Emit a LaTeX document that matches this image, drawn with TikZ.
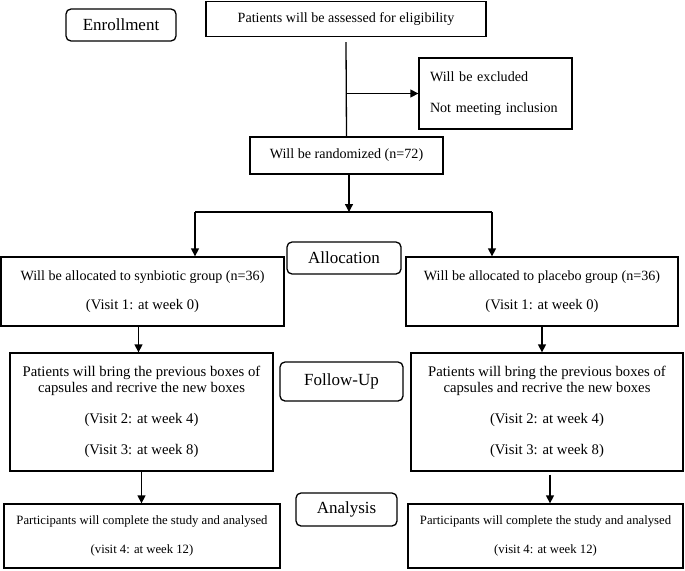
\documentclass[tikz,border=0pt]{standalone}
\usepackage{fontspec}
\setmainfont{Liberation Serif}
\usetikzlibrary{arrows.meta}

\tikzset{
  box/.style={draw, line width=1.3pt, align=center, inner sep=0pt, font=\fontsize{14.1}{16}\selectfont},
  stage/.style={draw, line width=1.3pt, rounded corners=5pt, inner sep=0pt, font=\fontsize{17}{19}\selectfont},
  flow/.style={line width=1.3pt},
}

\begin{document}
\begin{tikzpicture}[x=1pt, y=-1pt, >={Triangle[length=8pt,width=8pt]}]
	\useasboundingbox (0,0) rectangle (685,570);
	% fasi
	\node[stage, minimum width=110pt, minimum height=32pt] (enroll) at (121,25) {Enrollment};
	\node[stage, minimum width=114pt, minimum height=32pt] (alloc) at (344,258) {Allocation};
	\node[stage, minimum width=123pt, minimum height=39pt] (follow) at (341.5,381.5) {Follow-Up};
	\node[stage, minimum width=101pt, minimum height=33pt] (analysis) at (346.5,509.5) {Analysis};
	% screening
	\node[box, minimum width=280pt, minimum height=35pt] (elig) at (346,19) {Patients will be assessed for eligibility};
	\node[box, align=left, text width=131pt, inner xsep=11pt, minimum height=71pt] (excl) at (495.5,93.5) {Will be excluded\\[15pt]Not meeting inclusion};
	\node[box, minimum width=193pt, minimum height=37pt] (rand) at (346.5,155.5) {Will be randomized (n=72)};
	% gruppi
	\node[box, minimum width=283pt, minimum height=69pt] (synb) at (142.5,291.5) {Will be allocated to synbiotic group (n=36)\\[13pt]{\fontsize{14.6}{16}\selectfont(Visit 1: at week 0)}};
	\node[box, minimum width=272pt, minimum height=69pt] (plac) at (542,291.5) {Will be allocated to placebo group (n=36)\\[13pt]{\fontsize{14.6}{16}\selectfont(Visit 1: at week 0)}};
	% follow-up
	\node[box, font=\fontsize{14.7}{16}\selectfont, minimum width=263pt, minimum height=118pt] (fleft) at (141.5,412) {Patients will bring the previous boxes of\\capsules and recrive the new boxes\\[15pt](Visit 2: at week 4)\\[15pt](Visit 3: at week 8)};
	\node[box, font=\fontsize{14.7}{16}\selectfont, minimum width=272pt, minimum height=118pt] (fright) at (547,412) {Patients will bring the previous boxes of\\capsules and recrive the new boxes\\[15pt](Visit 2: at week 4)\\[15pt](Visit 3: at week 8)};
	% analisi
	\node[box, font=\fontsize{12.7}{16}\selectfont, minimum width=276pt, minimum height=64pt] (aleft) at (142,536) {Participants will complete the study and analysed\\[13pt](visit 4: at week 12)};
	\node[box, font=\fontsize{12.7}{16}\selectfont, minimum width=275pt, minimum height=64pt] (aright) at (545.5,536) {Participants will complete the study and analysed\\[13pt](visit 4: at week 12)};
	% collegamenti
	\coordinate (top) at ([yshift=-5pt]elig.south);
	\coordinate (branch) at (top |- excl.west);
	\draw[flow] (top) -- (rand.north);
	\draw[flow, ->] (branch) -- (excl.west);
	\coordinate (split) at (349,212);
	\coordinate (splitL) at (195,212);
	\coordinate (splitR) at (492,212);
	\draw[flow, ->] (rand.south -| split) -- (split);
	\draw[flow] (splitL) -- (splitR);
	\draw[flow, ->] (splitL) -- (splitL |- synb.north);
	\draw[flow, ->] (splitR) -- (splitR |- plac.north);
	\draw[flow, ->] ([xshift=-4pt]synb.south) -- ([xshift=-4pt]synb.south |- fleft.north);
	\draw[flow, ->] (plac.south) -- (plac.south |- fright.north);
	\draw[flow, ->] (fleft.south) -- (fleft.south |- aleft.north);
	\draw[flow, ->] ([xshift=3pt, yshift=-3pt]fright.south) -- ([xshift=3pt]fright.south |- aright.north);
\end{tikzpicture}
\end{document}
